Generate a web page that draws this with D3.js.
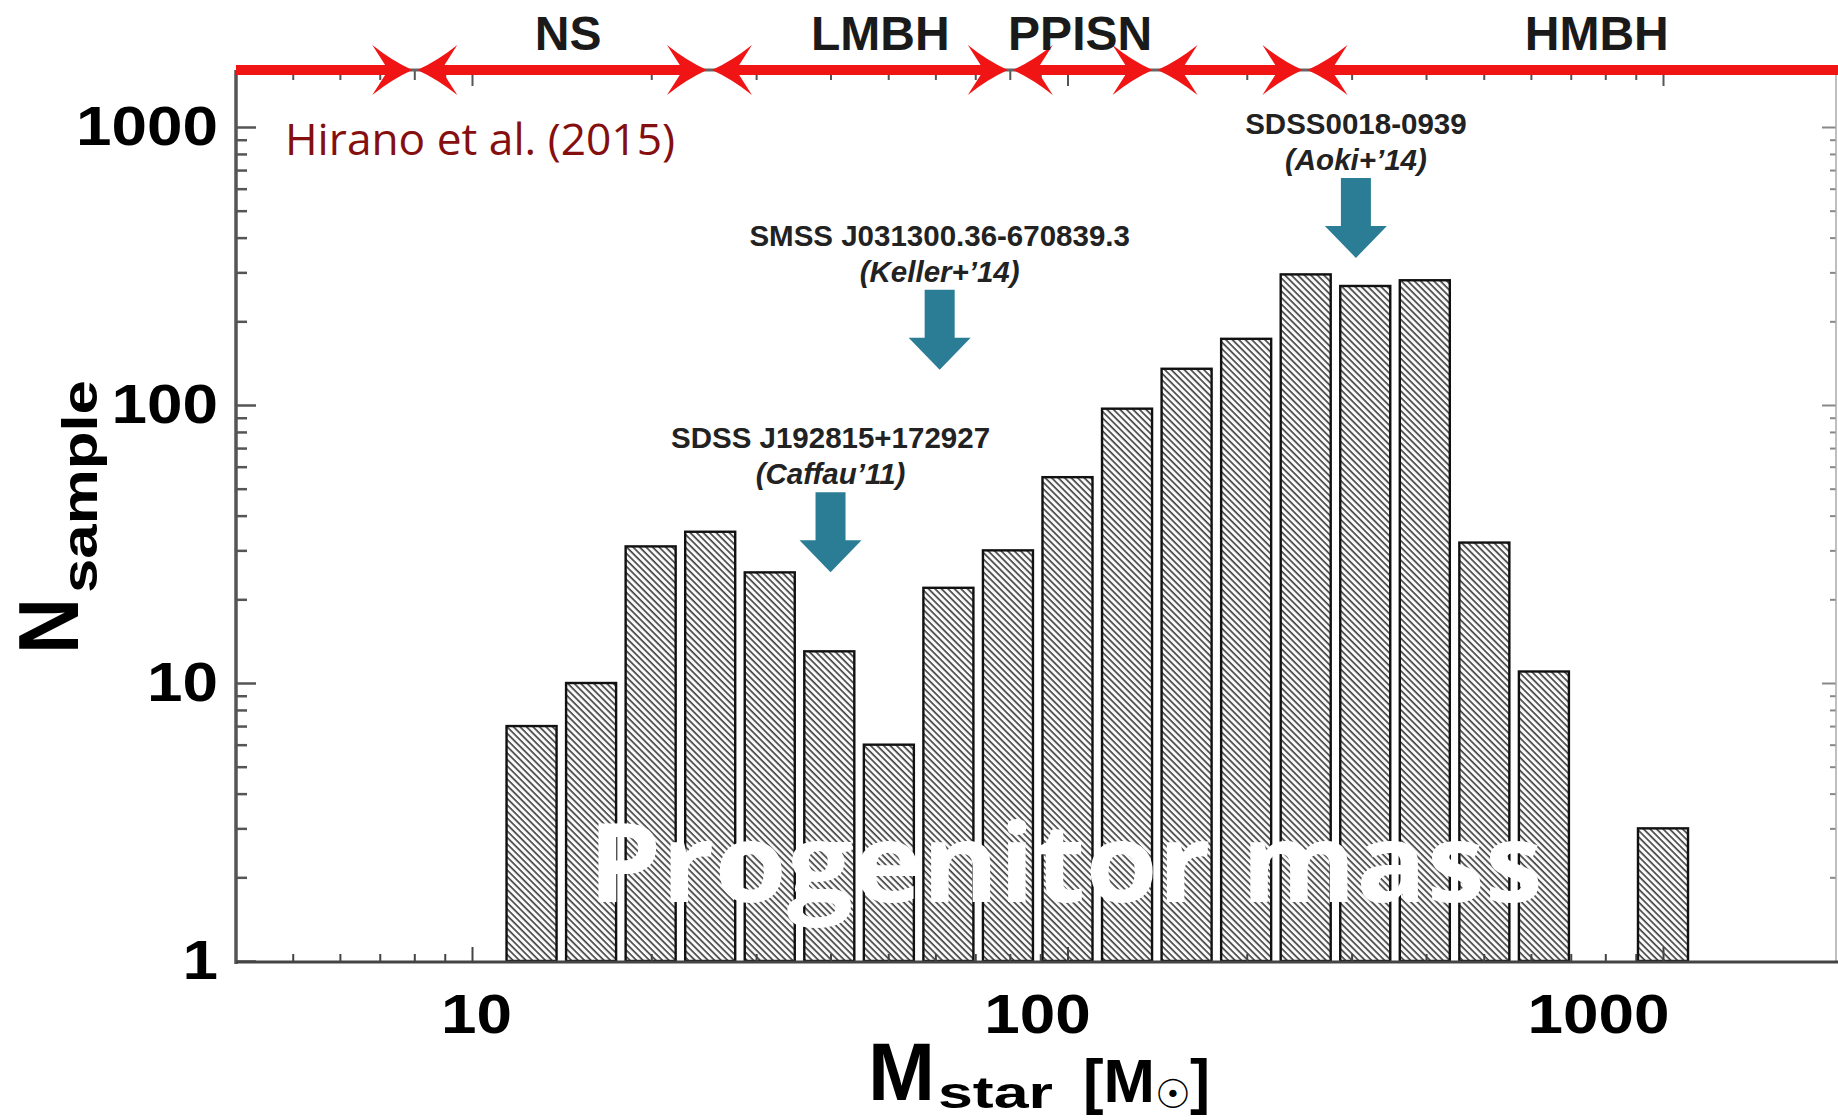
<!DOCTYPE html>
<html>
<head>
<meta charset="utf-8">
<script src="https://cdn.jsdelivr.net/npm/d3@7"></script>
<style>
  body { margin: 0; background: #fff; }
  svg { display: block; }
  text { font-family: "Liberation Sans", Arial, sans-serif; }
</style>
</head>
<body>
<svg id="chart" width="1838" height="1120"></svg>
<script>
// histogram: log10 of bin centre (Msun) and number of samples
const logMass = [1.1, 1.2, 1.3, 1.4, 1.5, 1.6, 1.7, 1.8, 1.9, 2.0,
                 2.1, 2.2, 2.3, 2.4, 2.5, 2.6, 2.7, 2.8, 2.9, 3.0];
const nSample = [7, 10, 31, 35, 25, 13, 6, 22, 30, 55,
                 97, 135, 173, 295, 268, 281, 32, 11, 0, 3];

// remnant regimes drawn on the red bar at the top
const boundaries = [8, 25, 80, 140, 250];
const regimes = ["NS", "LMBH", "PPISN", "HMBH"];
const regimeMass = [14.5, 48.5, 105, 774];

// observed stars with the arrows
const starNames = ["SDSS J192815+172927", "SMSS J031300.36-670839.3", "SDSS0018-0939"];
const starRefs = ["(Caffau\u201911)", "(Keller+\u201914)", "(Aoki+\u201914)"];
const starMass = [40, 61, 305];
const starTipN = [25, 134, 338];

const yTicks = [1, 10, 100, 1000];
const xTicks = [10, 100, 1000];

const svg = d3.select("#chart");
const pLeft = 236, pRight = 1836, pTop = 70, pBottom = 962;

const x = d3.scaleLog().domain([10, 1000]).range([472, 1663]);
// the printed tick numbers sit a bit off the ticks in the original figure
const xLab = d3.scaleLog().domain([10, 1000]).range([476, 1598]);
const y = d3.scaleLog().domain([1, 1000]).range([961, 127]);

const isMajor = v => Math.abs(Math.log10(v) - Math.round(Math.log10(v))) < 1e-6;
const xTickVals = x.copy().domain([x.invert(pLeft), x.invert(pRight)]).range([pLeft, pRight]).ticks();
const yTickVals = y.copy().domain([1, y.invert(pTop)]).range([961, pTop]).ticks();

// hatch pattern for the bars
const pat = svg.append("defs").append("pattern")
  .attr("id", "hatch")
  .attr("patternUnits", "userSpaceOnUse")
  .attr("width", 4.6).attr("height", 4.6)
  .attr("patternTransform", "rotate(-45)");
pat.append("rect").attr("width", 4.6).attr("height", 4.6).attr("fill", "#fafafa");
pat.append("line")
  .attr("x1", 1).attr("x2", 1).attr("y1", 0).attr("y2", 4.6)
  .attr("stroke", "#2a2a2a").attr("stroke-width", 1.45);

// bars
const bins = logMass.map((m, i) => ({m: m, n: nSample[i]})).filter(d => d.n > 0);
const half = 0.042;
svg.append("g").attr("id", "bars")
  .selectAll("rect")
  .data(bins)
  .join("rect")
  .attr("x", d => x(10 ** (d.m - half)))
  .attr("width", d => x(10 ** (d.m + half)) - x(10 ** (d.m - half)))
  .attr("y", d => y(d.n))
  .attr("height", d => y(1) - y(d.n))
  .attr("fill", "url(#hatch)")
  .attr("stroke", "#111")
  .attr("stroke-width", 2.4);

// ticks
function tickStyle(g, col, w) {
  g.select(".domain").remove();
  g.attr("color", col);
  g.selectAll("line").attr("stroke-width", w);
}
const minorX = xTickVals.filter(v => !isMajor(v));
const majorX = xTickVals.filter(isMajor);
const minorY = yTickVals.filter(v => !isMajor(v));

// left
svg.append("g").attr("transform", `translate(${pLeft},0)`)
  .call(d3.axisLeft(y).tickValues(minorY).tickSize(-11).tickFormat(""))
  .call(g => tickStyle(g, "#555", 2.5));
svg.append("g").attr("transform", `translate(${pLeft},0)`)
  .call(d3.axisLeft(y).tickValues(yTicks).tickSize(-20).tickPadding(18).tickFormat(d3.format("d")))
  .call(g => tickStyle(g, "#555", 2.5))
  .call(g => g.selectAll("text")
    .attr("fill", "#000")
    .style("font-family", "'Liberation Sans', Arial, sans-serif")
    .style("font-size", "56px")
    .style("font-weight", "bold")
    .attr("textLength", d => String(d).length * 35.5)
    .attr("lengthAdjust", "spacingAndGlyphs"));

// right
svg.append("g").attr("transform", `translate(${pRight},0)`)
  .call(d3.axisRight(y).tickValues(minorY).tickSize(-6).tickFormat(""))
  .call(g => tickStyle(g, "#888", 2));
svg.append("g").attr("transform", `translate(${pRight},0)`)
  .call(d3.axisRight(y).tickValues(yTicks.slice(1)).tickSize(-14).tickFormat(""))
  .call(g => tickStyle(g, "#888", 2));

// bottom
svg.append("g").attr("transform", `translate(0,${pBottom})`)
  .call(d3.axisBottom(x).tickValues(minorX).tickSize(-8).tickFormat(""))
  .call(g => tickStyle(g, "#444", 2));
svg.append("g").attr("transform", `translate(0,${pBottom})`)
  .call(d3.axisBottom(x).tickValues(majorX).tickSize(-15).tickFormat(""))
  .call(g => tickStyle(g, "#444", 2));
svg.append("g").attr("transform", `translate(0,${pBottom})`)
  .call(d3.axisBottom(xLab).tickValues(xTicks).tickSize(0).tickPadding(31).tickFormat(d3.format("d")))
  .call(g => tickStyle(g, "#000", 0))
  .call(g => g.selectAll("text")
    .attr("fill", "#000")
    .style("font-family", "'Liberation Sans', Arial, sans-serif")
    .style("font-size", "56px")
    .style("font-weight", "bold")
    .attr("textLength", d => String(d).length * 35.5)
    .attr("lengthAdjust", "spacingAndGlyphs"));

// top
svg.append("g").attr("transform", `translate(0,${pTop})`)
  .call(d3.axisBottom(x).tickValues(minorX).tickSize(10).tickFormat(""))
  .call(g => tickStyle(g, "#555", 2));
svg.append("g").attr("transform", `translate(0,${pTop})`)
  .call(d3.axisBottom(x).tickValues(majorX).tickSize(16).tickFormat(""))
  .call(g => tickStyle(g, "#555", 2));

// frame lines
svg.append("line").attr("x1", pLeft).attr("x2", 1838).attr("y1", pTop).attr("y2", pTop)
  .attr("stroke", "#666").attr("stroke-width", 3);
svg.append("line").attr("x1", pRight).attr("x2", pRight).attr("y1", pTop).attr("y2", pBottom)
  .attr("stroke", "#aaa").attr("stroke-width", 1.5);
svg.append("line").attr("x1", pLeft).attr("x2", pLeft).attr("y1", pTop).attr("y2", pBottom + 2)
  .attr("stroke", "#555").attr("stroke-width", 3.5);
svg.append("line").attr("x1", pLeft).attr("x2", 1838).attr("y1", pBottom).attr("y2", pBottom)
  .attr("stroke", "#444").attr("stroke-width", 3);

// red regime bar with arrowheads
const red = "#f01414";
const segStart = [pLeft].concat(boundaries.map(b => x(b) + 3 + 12));
const segEnd = boundaries.map(b => x(b) - 2 - 12).concat([1838]);
svg.append("g").selectAll("line")
  .data(segStart)
  .join("line")
  .attr("x1", d => d)
  .attr("x2", (d, i) => segEnd[i])
  .attr("y1", pTop).attr("y2", pTop)
  .attr("stroke", red).attr("stroke-width", 10);

const heads = svg.append("g");
heads.selectAll("path.r")
  .data(boundaries)
  .join("path")
  .attr("class", "r")
  .attr("transform", d => `translate(${x(d) - 2},${pTop})`)
  .attr("d", "M0,0 Q-20,-9 -40,-25 L-24,0 L-40,25 Q-20,9 0,0 Z")
  .attr("fill", red);
heads.selectAll("path.l")
  .data(boundaries)
  .join("path")
  .attr("class", "l")
  .attr("transform", d => `translate(${x(d) + 3},${pTop})`)
  .attr("d", "M0,0 Q20,-9 40,-25 L24,0 L40,25 Q20,9 0,0 Z")
  .attr("fill", red);

svg.append("g").selectAll("text")
  .data(regimes)
  .join("text")
  .attr("x", (d, i) => x(regimeMass[i]))
  .attr("y", 50)
  .attr("text-anchor", "middle")
  .attr("font-size", 48)
  .attr("font-weight", "bold")
  .attr("fill", "#1a1a1a")
  .text(d => d);

// star annotations
const teal = "#2b7d95";
const ann = svg.append("g");
starNames.forEach((name, i) => {
  const cx = x(starMass[i]);
  const tip = y(starTipN[i]);
  const topY = tip - 80, hs = tip - 32;
  ann.append("path")
    .attr("d", `M${cx - 15},${topY}H${cx + 15}V${hs}H${cx + 31}L${cx},${tip}L${cx - 31},${hs}H${cx - 15}Z`)
    .attr("fill", teal);
  ann.append("text")
    .attr("x", cx).attr("y", topY - 8)
    .attr("text-anchor", "middle")
    .attr("font-size", 29.5)
    .attr("font-weight", "bold")
    .attr("font-style", "italic")
    .attr("fill", "#222")
    .text(starRefs[i]);
  ann.append("text")
    .attr("x", cx).attr("y", topY - 44)
    .attr("text-anchor", "middle")
    .attr("font-size", 29.5)
    .attr("font-weight", "bold")
    .attr("fill", "#222")
    .text(name);
});

// overlay text
svg.append("text")
  .attr("x", 588).attr("y", 902)
  .attr("font-size", 110)
  .attr("font-weight", 700)
  .style("font-family", "'Open Sans', sans-serif")
  .attr("fill", "#fff")
  .attr("textLength", 955)
  .attr("lengthAdjust", "spacingAndGlyphs")
  .text("Progenitor mass");

svg.append("text")
  .attr("x", 285).attr("y", 155)
  .attr("font-size", 43)
  .style("font-family", "'Open Sans', sans-serif")
  .attr("fill", "#850e0e")
  .attr("textLength", 390)
  .attr("lengthAdjust", "spacingAndGlyphs")
  .text("Hirano et al. (2015)");

// y title
const yt = svg.append("g").attr("transform", "translate(78,654) rotate(-90)");
yt.append("text")
  .attr("font-size", 85).attr("font-weight", "bold")
  .attr("textLength", 56).attr("lengthAdjust", "spacingAndGlyphs")
  .text("N");
yt.append("text")
  .attr("x", 61).attr("y", 19)
  .attr("font-size", 50).attr("font-weight", "bold")
  .attr("textLength", 213).attr("lengthAdjust", "spacingAndGlyphs")
  .text("sample");

// x title
const xt = svg.append("g").attr("font-weight", "bold");
xt.append("text").attr("x", 868).attr("y", 1100)
  .attr("font-size", 81).attr("textLength", 67).attr("lengthAdjust", "spacingAndGlyphs")
  .text("M");
xt.append("text").attr("x", 938).attr("y", 1108)
  .attr("font-size", 45).attr("textLength", 115).attr("lengthAdjust", "spacingAndGlyphs")
  .text("star");
xt.append("text").attr("x", 1083).attr("y", 1102)
  .attr("font-size", 61).attr("textLength", 72).attr("lengthAdjust", "spacingAndGlyphs")
  .text("[M");
xt.append("text").attr("x", 1155).attr("y", 1108)
  .attr("font-size", 40).attr("font-weight", "normal")
  .style("font-family", "'DejaVu Sans', sans-serif")
  .text("\u2609");
xt.append("text").attr("x", 1190).attr("y", 1102)
  .attr("font-size", 61).attr("textLength", 20).attr("lengthAdjust", "spacingAndGlyphs")
  .text("]");
</script>
</body>
</html>
